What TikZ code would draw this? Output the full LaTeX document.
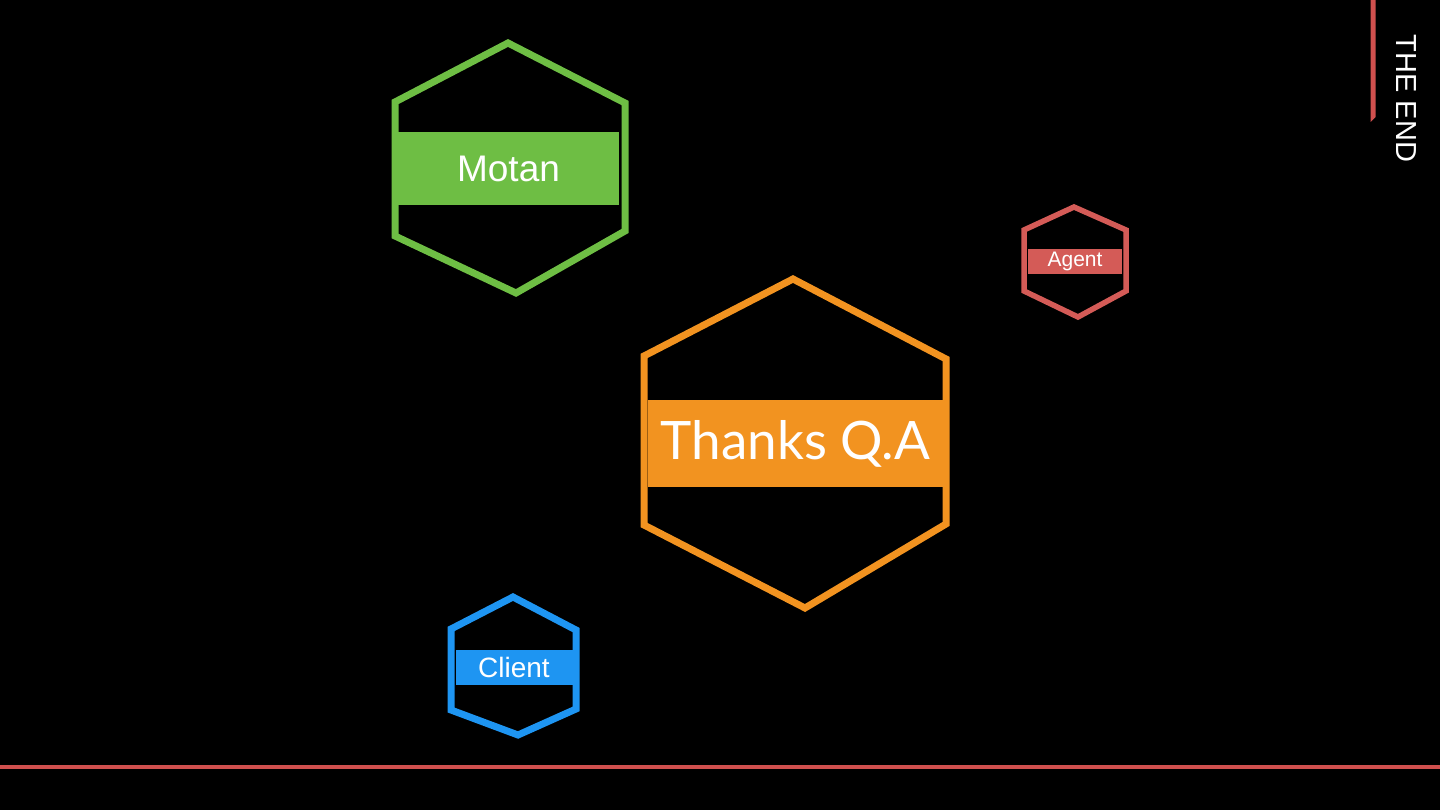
\documentclass[tikz,border=0pt]{standalone}
\usepackage{fontspec}
\setmainfont{Liberation Sans}
\newfontfamily\thanksfont{Lato}
\usetikzlibrary{positioning}
\definecolor{HexGreen}{HTML}{6EBE44}
\definecolor{HexOrange}{HTML}{F29320}
\definecolor{HexRed}{HTML}{D45B57}
\definecolor{HexBlue}{HTML}{1E95F2}
\definecolor{EndRed}{HTML}{D0504E}

\begin{document}
\begin{tikzpicture}[
  x=1pt,y=-1pt,
  hexline/.style={draw=#1,line width=7pt,line join=miter},
  band/.style={fill=#1,text=white,inner sep=0pt},
  bigtxt/.style={font=\fontsize{#1}{#1}\selectfont}
]
  \fill[black] (0,0) rectangle (1440,810);
  \useasboundingbox (0,0) rectangle (1440,810);
  % hexagons
  \draw[hexline=HexGreen] (508,43) -- (625,103) -- (625,231) -- (516,293) -- (395,236) -- (395,102) -- cycle;
  \draw[hexline=HexOrange] (793,279) -- (946,359) -- (946,524) -- (805,608) -- (644,525) -- (644,356) -- cycle;
  \draw[hexline=HexRed,line width=5.5pt] (1074,207) -- (1126,230) -- (1126,291) -- (1078,317) -- (1024,291) -- (1024,230) -- cycle;
  \draw[hexline=HexBlue] (513,597) -- (576,630) -- (576,709) -- (518,735) -- (451,710) -- (451,629) -- cycle;
  % bands
  \node[band=HexGreen,minimum width=221pt,minimum height=73pt,bigtxt=37] (motan) at (508.5,169) {Motan};
  \node[band=HexOrange,minimum width=295pt,minimum height=87pt,bigtxt=53] (thanks) at (795.5,443.5) {\thanksfont Thanks Q.A};
  \node[band=HexRed,minimum width=94pt,minimum height=25pt,bigtxt=21] (agent) at (1075,261.5) {Agent};
  \node[band=HexBlue,minimum width=117pt,minimum height=35pt,bigtxt=28] (client) at (514,667) {Client};
  % the end
  \fill[EndRed] (1370.5,0) -- (1375.5,0) -- (1375.5,117) -- (1370.5,122) -- cycle;
  \node[rotate=-90,text=white,bigtxt=29] (theend) at (1406,98.5) {THE END};
  \draw[EndRed,line width=4pt] (0,767) -- (1440,767);
\end{tikzpicture}
\end{document}
